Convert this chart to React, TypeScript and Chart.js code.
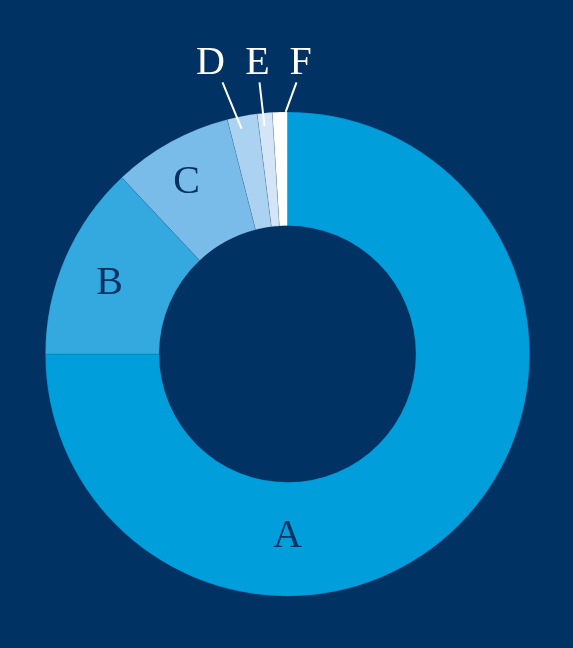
import { Chart, registerables, Plugin } from 'chart.js';
import { useEffect, useRef } from 'react';

Chart.register(...registerables);

const labels = ['A', 'B', 'C', 'D', 'E', 'F'];
const values = [75, 13, 8, 2, 1, 1];
const colors = ['#009edb', '#33a9df', '#79bce9', '#acd2f1', '#d3e5f6', '#ffffff'];

const BG = '#003263';
const LABEL_FONT = '40px "Liberation Serif", serif';

// labels drawn inside the ring; A sits at the bottom rather than mid-arc
// frac = position along the arc, dr = shift from the ring's middle radius
const insideLabels: Record<string, { angle?: number; frac: number; dr: number }> = {
  A: { angle: Math.PI / 2, frac: 0.5, dr: -3 },
  B: { frac: 0.46, dr: 6 },
  C: { frac: 0.44, dr: 13.5 },
};

// labels above the ring with a leader line
const outsideLabels: Record<string, { dx: number; lineDx: number; endFrac: number; endDr: number }> = {
  D: { dx: -77, lineDx: 12, endFrac: 0.4, endDr: -12 },
  E: { dx: -30, lineDx: 2, endFrac: 0.4, endDr: -13 },
  F: { dx: 13, lineDx: -4, endFrac: 0.88, endDr: 0 },
};

const labelPlugin: Plugin<'doughnut'> = {
  id: 'sliceLabels',
  afterDraw(chart) {
    const ctx = chart.ctx;
    const meta = chart.getDatasetMeta(0);
    ctx.save();
    ctx.font = LABEL_FONT;
    ctx.textAlign = 'center';
    ctx.textBaseline = 'middle';
    meta.data.forEach((el, i) => {
      const name = labels[i];
      const { x, y, startAngle, endAngle, innerRadius, outerRadius } = el.getProps(
        ['x', 'y', 'startAngle', 'endAngle', 'innerRadius', 'outerRadius'],
        true
      ) as any;
      const inside = insideLabels[name];
      if (inside) {
        const a = inside.angle ?? startAngle + (endAngle - startAngle) * inside.frac;
        const r = (innerRadius + outerRadius) / 2 + inside.dr;
        ctx.fillStyle = BG;
        ctx.fillText(name, x + Math.cos(a) * r, y + Math.sin(a) * r);
        return;
      }
      const out = outsideLabels[name];
      if (out) {
        const tx = x + out.dx;
        const ty = y - outerRadius - 48.5;
        ctx.fillStyle = '#ffffff';
        ctx.fillText(name, tx, ty);
        const a = startAngle + (endAngle - startAngle) * out.endFrac;
        const er = outerRadius + out.endDr;
        ctx.strokeStyle = '#ffffff';
        ctx.lineWidth = 2;
        ctx.beginPath();
        ctx.moveTo(tx + out.lineDx, ty + 19);
        ctx.lineTo(x + Math.cos(a) * er, y + Math.sin(a) * er);
        ctx.stroke();
      }
    });
    ctx.restore();
  },
};

function DonutChart() {
  const chartRef = useRef<HTMLCanvasElement>(null);

  useEffect(() => {
    const context = chartRef.current?.getContext('2d');
    if (!context) return undefined;

    const chartInstance = new Chart(context, {
      type: 'doughnut',
      data: {
        labels,
        datasets: [
          {
            data: values,
            backgroundColor: colors,
            borderColor: 'rgba(0, 50, 99, 0.18)',
            borderWidth: 0.75,
            hoverOffset: 0,
          },
        ],
      },
      options: {
        animation: false,
        responsive: true,
        maintainAspectRatio: false,
        cutout: '53%',
        layout: {
          padding: { left: 45, right: 43, top: 111.5, bottom: 51.5 },
        },
        plugins: {
          legend: { display: false },
          tooltip: { enabled: false },
        },
      },
      plugins: [labelPlugin],
    });

    return () => {
      chartInstance.destroy();
    };
  }, []);

  return (
    <div
      style={{
        position: 'absolute',
        top: 0,
        left: 0,
        width: 573,
        height: 648,
        background: BG,
      }}
    >
      <canvas ref={chartRef}></canvas>
    </div>
  );
}

export default function App() {
  return <DonutChart />;
}
